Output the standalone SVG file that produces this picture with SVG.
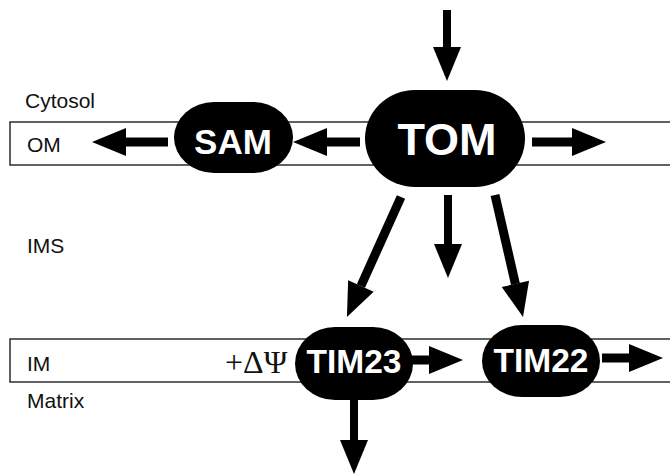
<svg xmlns="http://www.w3.org/2000/svg" width="670" height="474" viewBox="0 0 670 474">
  <style>
    .band { fill: #ffffff; stroke: #3a3a3a; stroke-width: 1.6; }
    .label { font-family: "Liberation Sans", Arial, sans-serif; font-size: 21px; fill: #111; }
    .node rect { fill: #000; }
    .node text { font-family: "Liberation Sans", Arial, sans-serif; font-weight: bold; fill: #fff; text-anchor: middle; }
    .shaft { stroke: #000; stroke-width: 9; fill: none; marker-end: url(#head); }
    .psi { font-family: "Liberation Serif", "Times New Roman", serif; font-size: 32px; fill: #111; }
  </style>
  <defs>
    <marker id="head" markerUnits="userSpaceOnUse" markerWidth="36" markerHeight="30" refX="0" refY="15" orient="auto" overflow="visible">
      <path d="M0,1 L34,15 L0,29 Z" fill="#000"/>
    </marker>
  </defs>

  <rect width="670" height="474" fill="#fff"/>

  <!-- membranes -->
  <rect class="band" x="10" y="122" width="672" height="43"/>
  <rect class="band" x="10" y="339" width="672" height="43"/>

  <!-- compartment labels -->
  <text class="label" x="25" y="108">Cytosol</text>
  <text class="label" x="27" y="152">OM</text>
  <text class="label" x="27" y="253">IMS</text>
  <text class="label" x="27" y="371">IM</text>
  <text class="label" x="27" y="408">Matrix</text>
  <text class="psi" x="225" y="373">+ΔΨ</text>

  <!-- connectors -->
  <g id="connectors">
    <line class="shaft" x1="447" y1="10" x2="447" y2="47" style="stroke-width:8"/>
    <line class="shaft" x1="360" y1="142" x2="327" y2="142"/>
    <line class="shaft" x1="168" y1="142" x2="126" y2="142"/>
    <line class="shaft" x1="532" y1="142" x2="572" y2="142"/>
    <line class="shaft" x1="448" y1="195" x2="448" y2="244" style="stroke-width:8"/>
    <line class="shaft" x1="401" y1="197" x2="360.9" y2="286"/>
    <line class="shaft" x1="495" y1="195" x2="515.4" y2="283.9"/>
    <line class="shaft" x1="408" y1="360" x2="429" y2="360"/>
    <line class="shaft" x1="602" y1="358" x2="629" y2="358"/>
    <line class="shaft" x1="354" y1="400" x2="354" y2="440" style="stroke-width:8"/>
  </g>

  <!-- translocase complexes -->
  <g id="SAM" class="node">
    <rect x="174" y="102" width="119" height="71" rx="40" ry="35.5"/>
    <text x="233" y="154" font-size="35">SAM</text>
  </g>
  <g id="TOM" class="node">
    <rect x="365" y="90" width="160" height="97" rx="50" ry="48.5"/>
    <text x="447" y="155" font-size="45">TOM</text>
  </g>
  <g id="TIM23" class="node">
    <rect x="295" y="327" width="118" height="73" rx="40" ry="36.5"/>
    <text x="354" y="373" font-size="33.5">TIM23</text>
  </g>
  <g id="TIM22" class="node">
    <rect x="482" y="325" width="118" height="72" rx="40" ry="36"/>
    <text x="541" y="372" font-size="33.5">TIM22</text>
  </g>
</svg>
